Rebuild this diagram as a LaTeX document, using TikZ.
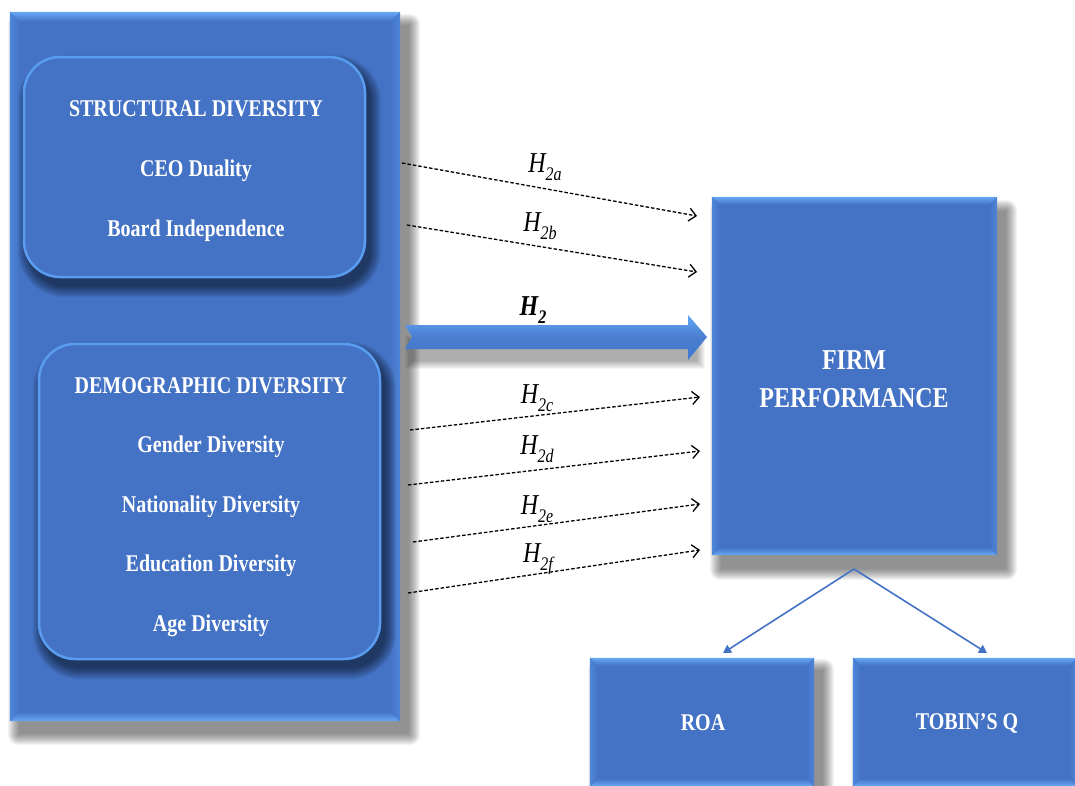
\documentclass[tikz,border=0pt]{standalone}
\usepackage{fontspec}
\setmainfont{Liberation Serif}
\usetikzlibrary{arrows.meta,calc}
\definecolor{boxblue}{HTML}{4472C4}
\definecolor{bevlight}{HTML}{66A8F6}
\definecolor{bevmid}{HTML}{4E86DA}
\definecolor{rimlight}{HTML}{5A9CF0}
\definecolor{arrowtop}{HTML}{62A8F8}
\definecolor{arrowbot}{HTML}{3F78CF}
\newcommand\mybevel[2]{%
  \shade[top color=bevlight, bottom color=boxblue] (#1.north west) -- (#1.north east) -- ($(#1.north east)+(-#2,#2)$) -- ($(#1.north west)+(#2,#2)$) -- cycle;
  \shade[top color=boxblue, bottom color=bevlight] (#1.south west) -- (#1.south east) -- ($(#1.south east)+(-#2,-#2)$) -- ($(#1.south west)+(#2,-#2)$) -- cycle;
  \shade[left color=bevmid, right color=boxblue] (#1.north west) -- (#1.south west) -- ($(#1.south west)+(#2,-#2)$) -- ($(#1.north west)+(#2,#2)$) -- cycle;
  \shade[left color=boxblue, right color=bevmid] (#1.north east) -- (#1.south east) -- ($(#1.south east)+(-#2,-#2)$) -- ($(#1.north east)+(-#2,#2)$) -- cycle;
}
% soft shadow: node, dx, dy, corner radius, base opacity
\newcommand\softshadow[5]{%
  \foreach \r in {0,...,11}{%
    \fill[black, opacity=#5, rounded corners=#4+\r]
      ($(#1.north west)+(#2-\r,#3-\r)$) rectangle ($(#1.south east)+(#2+\r,#3+\r)$);
  }%
}
\newcommand\tall[1]{\scalebox{1}[1.2]{#1}}
\newcommand\hyp[1]{\tall{\itshape H\raisebox{-0.3em}{\fontsize{16}{16}\selectfont #1}}}
\tikzset{
  sqbox/.style={fill=boxblue, inner sep=0pt, text=white, align=center},
  rbox/.style={fill=boxblue, draw=rimlight, line width=2.5pt, rounded corners=36pt, inner sep=0pt},
  boxtext/.style={text=white, align=center, inner sep=0pt, font=\fontsize{20}{#1}\selectfont\bfseries},
  hypline/.style={line width=1.3pt, dash pattern=on 3.5pt off 2pt,
    -{Straight Barb[length=7pt,width=13pt,line width=1.3pt]}},
  hyplabel/.style={font=\fontsize{24}{24}\selectfont, inner sep=0pt},
  treeline/.style={draw=boxblue, line width=1.6pt, -{Triangle[length=8pt,width=9pt]}}
}
\begin{document}
\begin{tikzpicture}[x=1pt,y=-1pt]
\clip (0,0) rectangle (1075,785);
\fill[white] (0,0) rectangle (1075,785);

% left big box
\path (205,366.5) node[minimum width=390pt, minimum height=709pt, inner sep=0pt] (leftshape) {};
\softshadow{leftshape}{9}{13}{0}{0.045}
\node[sqbox, minimum width=390pt, minimum height=709pt] (left) at (205,366.5) {};
\mybevel{left}{10}

% structural box
\path (194.5,167) node[minimum width=341pt, minimum height=220pt, inner sep=0pt] (structshape) {};
\softshadow{structshape}{5}{9}{36}{0.05}
\node[rbox, minimum width=341pt, minimum height=220pt] (struct) at (194.5,167) {};
\node[boxtext=60] (structtxt) at (196,171)
  {\tall{STRUCTURAL DIVERSITY}\\\tall{CEO Duality}\\\tall{Board Independence}};

% demographic box
\path (209.5,501.5) node[minimum width=341pt, minimum height=315pt, inner sep=0pt] (demoshape) {};
\softshadow{demoshape}{5}{9}{36}{0.05}
\node[rbox, minimum width=341pt, minimum height=315pt] (demo) at (209.5,501.5) {};
\node[boxtext=59.5] (demotxt) at (211,507)
  {\tall{DEMOGRAPHIC DIVERSITY}\\\tall{Gender Diversity}\\\tall{Nationality Diversity}\\\tall{Education Diversity}\\\tall{Age Diversity}};

% firm performance
\path (854.5,376) node[minimum width=285pt, minimum height=358pt, inner sep=0pt] (firmshape) {};
\softshadow{firmshape}{9}{14}{0}{0.045}
\node[sqbox, minimum width=285pt, minimum height=358pt] (firm) at (854.5,376) {};
\mybevel{firm}{8}
\node[text=white, align=center, font=\fontsize{24}{38}\selectfont\bfseries] (firmtxt) at (854,379) {\tall{FIRM}\\\tall{PERFORMANCE}};

% ROA and Tobin
\path (702,722) node[minimum width=224pt, minimum height=128pt, inner sep=0pt] (roashape) {};
\softshadow{roashape}{9}{12}{0}{0.045}
\node[sqbox, minimum width=224pt, minimum height=128pt] (roa) at (702,722) {};
\mybevel{roa}{8}
\node[text=white, font=\fontsize{20}{24}\selectfont\bfseries] (roatxt) at (703,723) {\tall{ROA}};
\path (965,722) node[minimum width=224pt, minimum height=128pt, inner sep=0pt] (tobinshape) {};
\softshadow{tobinshape}{9}{12}{0}{0.045}
\node[sqbox, minimum width=224pt, minimum height=128pt] (tobin) at (965,722) {};
\mybevel{tobin}{8}
\node[text=white, font=\fontsize{20}{24}\selectfont\bfseries] (tobintxt) at (967,723) {\tall{TOBIN’S Q}};

% big H2 arrow
\coordinate (bs) at (405,337);
\coordinate (be) at (707,337);
\foreach \r in {0,...,8}{%
  \fill[black, opacity=0.04] ($(bs)+(8-\r,6-\r)$) rectangle ($(be)+(-10+\r,24+\r)$);
}
\shade[top color=arrowtop, bottom color=arrowbot, middle color=boxblue!80!arrowtop]
  ($(bs)+(0,-12)$) -- ($(be)+(-19,-12)$) -- ($(be)+(-19,-22)$) -- (be) -- ($(be)+(-19,23)$) -- ($(be)+(-19,12)$) -- ($(bs)+(0,12)$) -- ($(bs)+(7,0)$) -- cycle;
\node[font=\fontsize{24}{24}\selectfont\bfseries, inner sep=0pt] (h2) at (533,310) {\hyp{2}};

% dashed hypotheses
\coordinate (a1) at (402,163);  \coordinate (a2) at (697,216);
\coordinate (b1) at (407,225);  \coordinate (b2) at (697,272);
\coordinate (c1) at (410,430);  \coordinate (c2) at (700,397);
\coordinate (d1) at (408,485);  \coordinate (d2) at (700,451);
\coordinate (e1) at (413,542);  \coordinate (e2) at (700,504);
\coordinate (f1) at (408,593);  \coordinate (f2) at (700,550);
\draw[hypline] (a1) -- (a2);
\draw[hypline] (b1) -- (b2);
\draw[hypline] (c1) -- (c2);
\draw[hypline] (d1) -- (d2);
\draw[hypline] (e1) -- (e2);
\draw[hypline] (f1) -- (f2);
\node[hyplabel] (la) at (545,167) {\hyp{2a}};
\node[hyplabel] (lb) at (540,226) {\hyp{2b}};
\node[hyplabel] (lc) at (537,398) {\hyp{2c}};
\node[hyplabel] (ld) at (537,449) {\hyp{2d}};
\node[hyplabel] (le) at (537,509) {\hyp{2e}};
\node[hyplabel] (lf) at (538,559) {\hyp{2f}};

% tree
\coordinate (apex) at (854,569);
\coordinate (roaend) at (723,653);
\coordinate (tobend) at (987,653);
\draw[treeline] (apex) -- (roaend);
\draw[treeline] (apex) -- (tobend);
\end{tikzpicture}
\end{document}
